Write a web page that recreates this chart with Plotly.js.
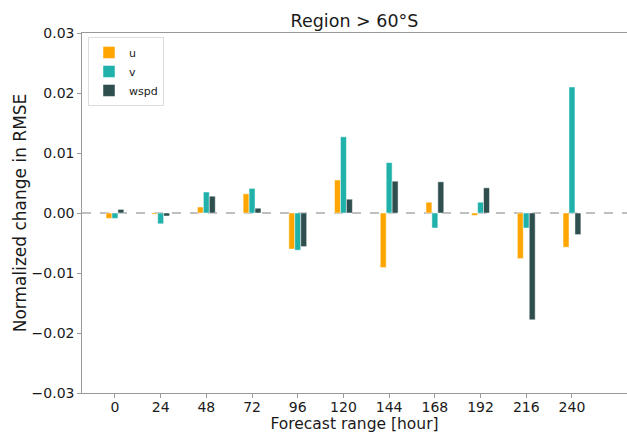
<!DOCTYPE html>
<html>
<head>
<meta charset="utf-8">
<script src="https://cdn.plot.ly/plotly-3.0.1.min.js"></script>
<style>
  html, body { margin: 0; padding: 0; background: #fff; }
  #chart { width: 627px; height: 433px; }
</style>
</head>
<body>
<div id="chart"></div>
<script>
// Forecast lead times (hours)
const hours = [0, 24, 48, 72, 96, 120, 144, 168, 192, 216, 240];

// Normalized change in RMSE per variable
const uVals    = [-0.0009, -0.0002, 0.0010, 0.0032, -0.0060, 0.0055, -0.0091, 0.0018, -0.0004, -0.0076, -0.0057];
const vVals    = [-0.0009, -0.0018, 0.0035, 0.0041, -0.0062, 0.0127,  0.0084, -0.0025, 0.0018, -0.0025,  0.0210];
const wspdVals = [ 0.0006, -0.0005, 0.0028, 0.0008, -0.0056, 0.0023,  0.0053, 0.0052, 0.0042, -0.0178, -0.0036];

// y-axis ticks and their labels (true minus sign)
const yTicks = [-0.03, -0.02, -0.01, 0.00, 0.01, 0.02, 0.03];
const yTickLabels = ['\u22120.03', '\u22120.02', '\u22120.01', '0.00', '0.01', '0.02', '0.03'];

const font = 'DejaVu Sans, Liberation Sans, sans-serif';
const textColor = '#1a1a1a';
const edge = { color: 'rgba(255,255,255,0.8)', width: 0.6 };

const traces = [
  { name: 'u',    y: uVals,    color: '#FFA500' },
  { name: 'v',    y: vVals,    color: '#20B2AA' },
  { name: 'wspd', y: wspdVals, color: '#2F4F4F' }
].map(s => ({
  type: 'bar',
  name: s.name,
  x: hours,
  y: s.y,
  marker: { color: s.color, line: edge },
  hoverinfo: 'x+y+name'
}));

const layout = {
  width: 627,
  height: 433,
  margin: { l: 82, r: 0, t: 33, b: 40 },
  paper_bgcolor: '#fff',
  plot_bgcolor: '#fff',
  font: { family: font, size: 14, color: textColor },
  barmode: 'group',
  bargap: 0.61,
  bargroupgap: 0,
  title: {
    text: 'Region > 60°S',
    font: { family: font, size: 17.5, color: textColor },
    x: 0.5, xref: 'paper', xanchor: 'center',
    y: 0.951, yref: 'container', yanchor: 'middle'
  },
  xaxis: {
    range: [-17.3, 268.9],
    tickvals: hours,
    ticktext: hours.map(String),
    showgrid: false,
    zeroline: false,
    showline: true,
    mirror: true,
    linecolor: '#999',
    linewidth: 1.2,
    ticks: 'outside',
    ticklen: 3.5,
    tickcolor: '#999',
    ticklabelstandoff: -3,
    tickfont: { family: font, size: 14, color: textColor },
    title: { text: 'Forecast range [hour]', font: { family: font, size: 15.5, color: textColor }, standoff: 5 }
  },
  yaxis: {
    range: [-0.03, 0.03],
    tickvals: yTicks,
    ticktext: yTickLabels,
    showgrid: false,
    zeroline: false,
    showline: true,
    linecolor: '#999',
    linewidth: 1.2,
    ticks: 'outside',
    ticklen: 3.5,
    tickcolor: '#999',
    tickfont: { family: font, size: 14, color: textColor },
    title: { text: 'Normalized change in RMSE', font: { family: font, size: 17, color: textColor }, standoff: 0 }
  },
  shapes: [{
    type: 'line', xref: 'paper', yref: 'y',
    x0: 0, x1: 1, y0: 0, y1: 0,
    line: { color: '#aaa', width: 1.5, dash: 'dash' },
    layer: 'below'
  }],
  showlegend: true,
  legend: {
    x: 0.011, y: 0.989, xanchor: 'left', yanchor: 'top',
    bgcolor: 'rgba(255,255,255,0.8)',
    bordercolor: '#ddd', borderwidth: 1,
    font: { family: font, size: 11, color: textColor },
    tracegroupgap: 0,
    itemwidth: 30
  }
};

Plotly.newPlot('chart', traces, layout, { displayModeBar: false, staticPlot: true });
</script>
</body>
</html>
